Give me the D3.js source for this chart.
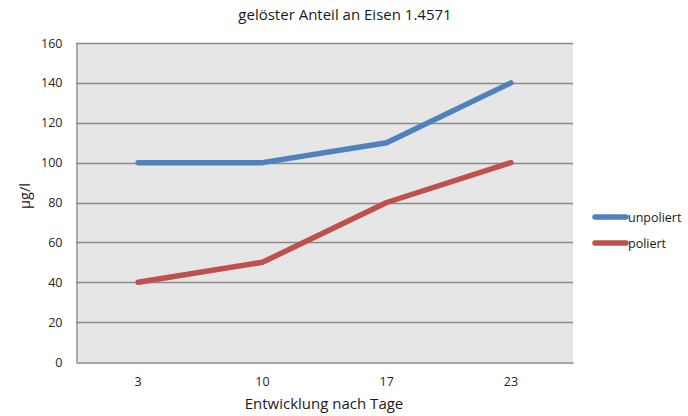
<!DOCTYPE html>
<html>
<head>
<meta charset="utf-8">
<script src="https://cdn.jsdelivr.net/npm/d3@7"></script>
<style>
  html, body { margin: 0; padding: 0; background: #fff; }
  svg { display: block; font-family: "Open Sans", sans-serif; }
</style>
</head>
<body>
<svg id="chart" width="688" height="416"></svg>
<script>
// Days of observation and dissolved iron (µg/l) per surface finish
const days = ["3", "10", "17", "23"];
const unpoliert = [100, 100, 110, 140];
const poliert = [40, 50, 80, 100];
const yTicks = [0, 20, 40, 60, 80, 100, 120, 140, 160];
const seriesNames = ["unpoliert", "poliert"];
const seriesColors = ["#4f81bd", "#c0504d"];

const series = [
  { name: seriesNames[0], values: unpoliert, color: seriesColors[0] },
  { name: seriesNames[1], values: poliert, color: seriesColors[1] }
];

const FONT = "'Open Sans', sans-serif";
const svg = d3.select("#chart");
const plot = { left: 76, top: 43, right: 573, bottom: 362 };

const x = d3.scaleBand().domain(days).range([plot.left, plot.right]);
const y = d3.scaleLinear().domain([0, 160]).range([plot.bottom, plot.top]);

// Plot background
svg.append("rect")
  .attr("x", plot.left).attr("y", plot.top)
  .attr("width", plot.right - plot.left).attr("height", plot.bottom - plot.top)
  .attr("fill", "#e6e6e6");

// Horizontal gridlines
svg.append("g")
  .selectAll("line")
  .data(yTicks.filter(d => d > 0))
  .join("line")
  .attr("x1", plot.left).attr("x2", plot.right)
  .attr("y1", d => Math.round(y(d)) + 0.5).attr("y2", d => Math.round(y(d)) + 0.5)
  .attr("stroke", "#8a8a8a").attr("stroke-width", 1.3);

// Y axis
const yAxis = svg.append("g")
  .attr("transform", `translate(${plot.left + 0.5},0)`)
  .call(d3.axisLeft(y).tickValues(yTicks).tickSize(0).tickPadding(14));
yAxis.select(".domain").attr("stroke", "#8a8a8a").attr("stroke-width", 1.3);
yAxis.selectAll("text").attr("font-size", 12.5).attr("fill", "#262626")
  .attr("font-family", FONT);

// X axis
const xAxis = svg.append("g")
  .attr("transform", `translate(0,${plot.bottom + 0.5})`)
  .call(d3.axisBottom(x).tickSize(0).tickPadding(15));
xAxis.select(".domain").attr("stroke", "#8a8a8a").attr("stroke-width", 1.3);
xAxis.selectAll("text").attr("font-size", 12.5).attr("fill", "#262626")
  .attr("font-family", FONT);

// Series lines
const line = d3.line()
  .x((d, i) => x(days[i]) + x.bandwidth() / 2)
  .y(d => y(d));

svg.append("g")
  .selectAll("path")
  .data(series)
  .join("path")
  .attr("d", d => line(d.values))
  .attr("fill", "none")
  .attr("stroke", d => d.color)
  .attr("stroke-width", 5.5)
  .attr("stroke-linecap", "round")
  .attr("stroke-linejoin", "round");

// Title
svg.append("text")
  .attr("x", 345).attr("y", 20)
  .attr("text-anchor", "middle")
  .attr("font-size", 15).attr("fill", "#1a1a1a")
  .text("gelöster Anteil an Eisen 1.4571");

// Axis titles
svg.append("text")
  .attr("x", 324).attr("y", 409)
  .attr("text-anchor", "middle")
  .attr("font-size", 15).attr("fill", "#1a1a1a")
  .text("Entwicklung nach Tage");

svg.append("text")
  .attr("transform", "translate(30,196) rotate(-90)")
  .attr("text-anchor", "middle")
  .attr("font-size", 14.5).attr("fill", "#1a1a1a")
  .text("µg/l");

// Legend
const legend = svg.append("g")
  .selectAll("g")
  .data(series)
  .join("g")
  .attr("transform", (d, i) => `translate(595,${217 + i * 26})`);
legend.append("line")
  .attr("x1", 0).attr("x2", 31)
  .attr("stroke", d => d.color)
  .attr("stroke-width", 5.5)
  .attr("stroke-linecap", "round");
legend.append("text")
  .attr("x", 33).attr("y", 4.5)
  .attr("font-size", 12.5).attr("fill", "#1a1a1a")
  .text(d => d.name);
</script>
</body>
</html>
